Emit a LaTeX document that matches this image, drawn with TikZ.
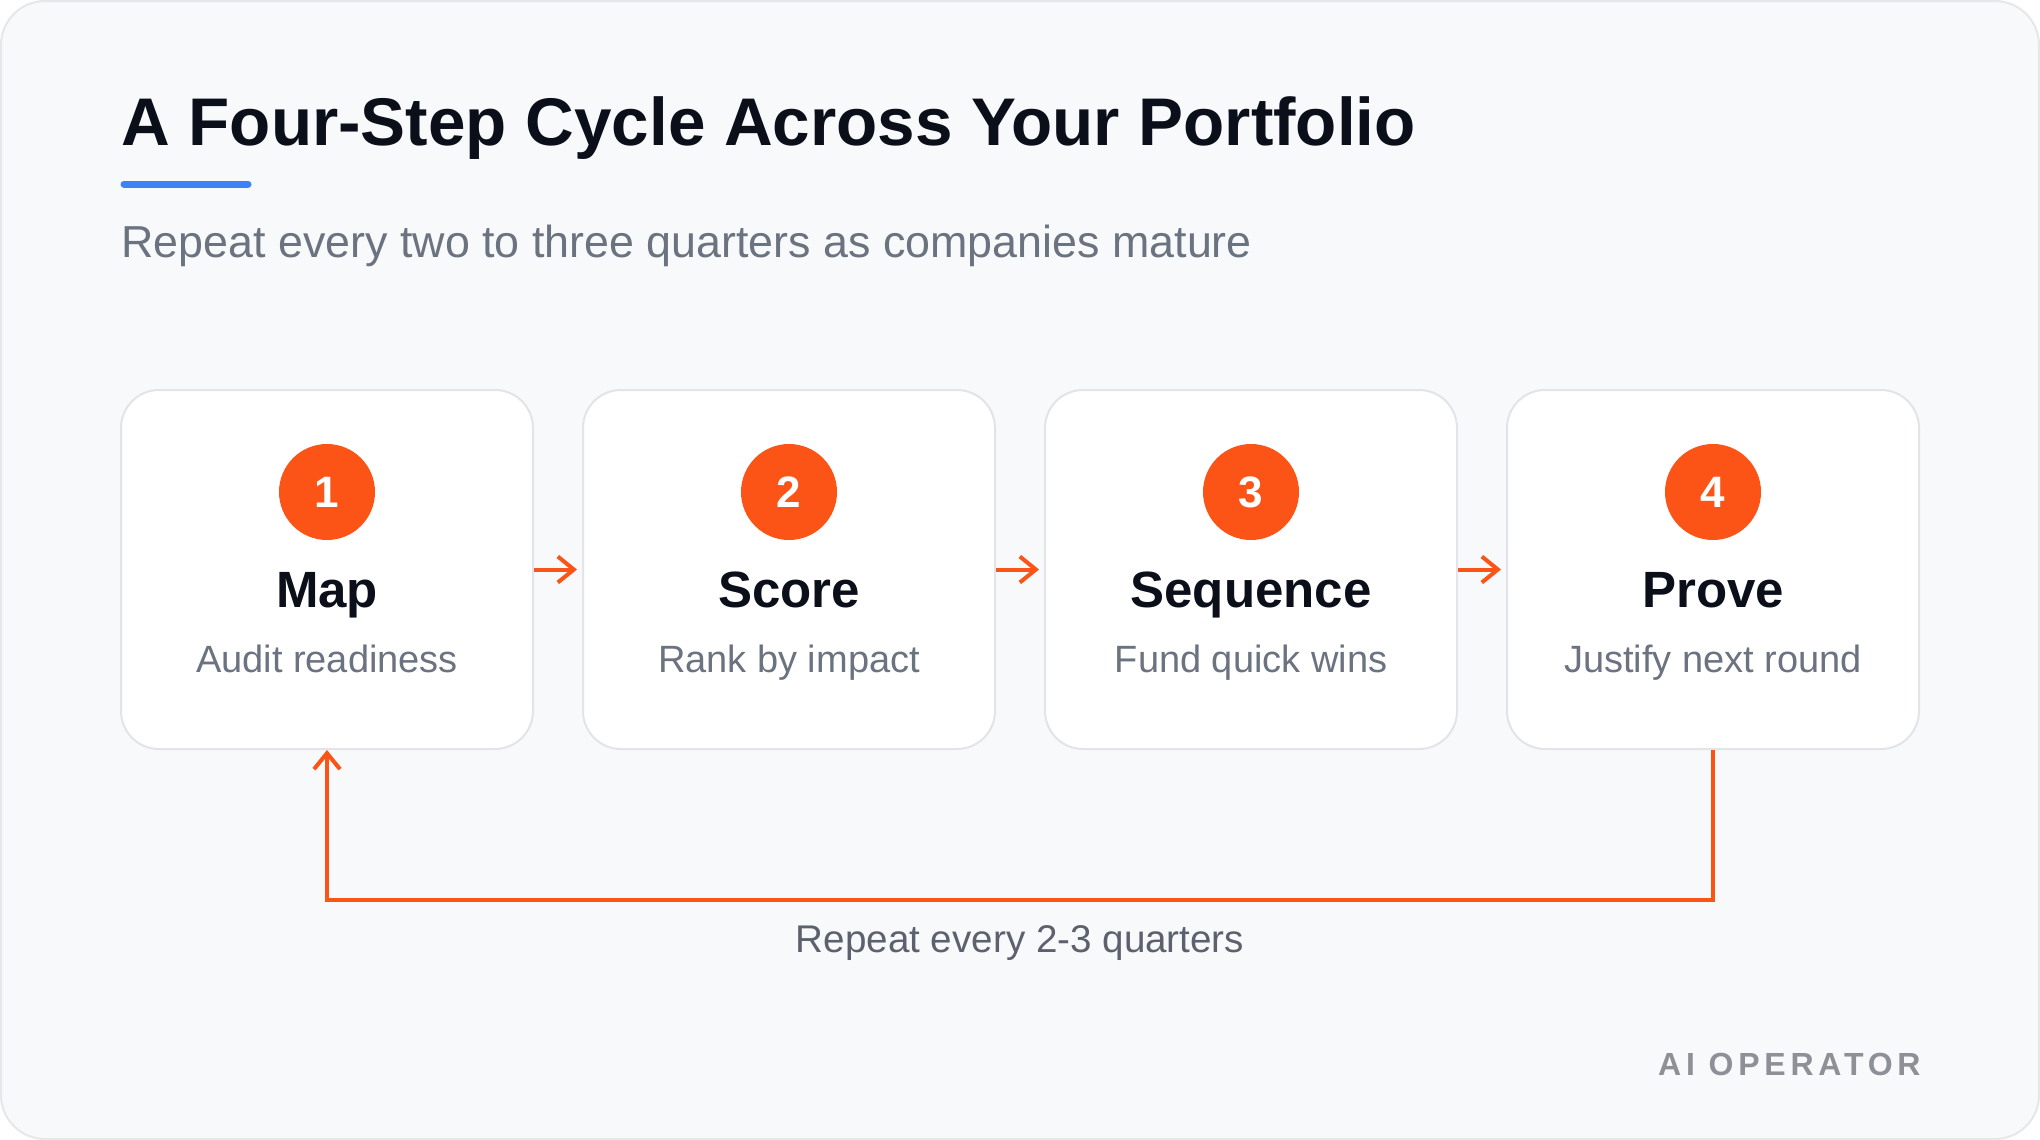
\documentclass[tikz,border=0pt]{standalone}
\usepackage{fontspec}
\setmainfont{Liberation Sans}
\usetikzlibrary{arrows.meta}
\definecolor{bgc}{HTML}{F8F9FB}
\definecolor{frame}{HTML}{E5E7EB}
\definecolor{boxline}{HTML}{E2E4E8}
\definecolor{titlec}{HTML}{0B0F1A}
\definecolor{subc}{HTML}{6B7280}
\definecolor{bluec}{HTML}{3B82F6}
\definecolor{orangec}{HTML}{FC5317}
\definecolor{brandc}{HTML}{8E9097}
\begin{document}
\begin{tikzpicture}[x=0.5pt,y=-0.5pt,
  stepbox/.style={draw=boxline, line width=1pt, fill=white, rounded corners=19pt,
    minimum width=206pt, minimum height=179.5pt, inner sep=0pt},
  numc/.style={circle, fill=orangec, minimum size=48pt, inner sep=0pt,
    text=white, font=\fontsize{22}{26}\selectfont\bfseries},
  steptitle/.style={anchor=base, text=titlec, font=\fontsize{25.5}{30}\selectfont\bfseries, inner sep=0pt},
  stepsub/.style={anchor=base, text=subc, font=\fontsize{19}{23}\selectfont, inner sep=0pt},
  flow/.style={draw=orangec, line width=2pt, -{Straight Barb[length=8pt,width=13pt]}}
]
\useasboundingbox (0,0) rectangle (2040,1140);
\path[draw=frame, fill=bgc, line width=1pt, rounded corners=22pt] (1,1) rectangle (2039,1139);

\node[anchor=base west, inner sep=0pt, text=titlec, font=\fontsize{33.7}{40}\selectfont\bfseries] (title) at (121,145) {A Four-Step Cycle Across Your Portfolio};
\draw[bluec, line width=3.5pt, line cap=round] (124,184) -- (248,184);
\node[anchor=base west, inner sep=0pt, text=subc, font=\fontsize{22.4}{27}\selectfont] (subtitle) at (121,257) {Repeat every two to three quarters as companies mature};

\node[stepbox] (b1) at (327,569.5) {};
\node[stepbox] (b2) at (789,569.5) {};
\node[stepbox] (b3) at (1251,569.5) {};
\node[stepbox] (b4) at (1713,569.5) {};

\node[numc] (n1) at (327,492) {1};
\node[numc] (n2) at (789,492) {2};
\node[numc] (n3) at (1251,492) {3};
\node[numc] (n4) at (1713,492) {4};

\node[steptitle] (t1) at (327,607) {Map};
\node[steptitle] (t2) at (789,607) {Score};
\node[steptitle] (t3) at (1251,607) {Sequence};
\node[steptitle] (t4) at (1713,607) {Prove};

\node[stepsub] (s1) at (327,672) {Audit readiness};
\node[stepsub] (s2) at (789,672) {Rank by impact};
\node[stepsub] (s3) at (1251,672) {Fund quick wins};
\node[stepsub] (s4) at (1713,672) {Justify next round};

\draw[flow, shorten >=2.5pt] (b1.east) -- (b2.west);
\draw[flow, shorten >=2.5pt] (b2.east) -- (b3.west);
\draw[flow, shorten >=2.5pt] (b3.east) -- (b4.west);

\draw[flow] (b4.south) -- ++(0,150) -| (b1.south);
\node[anchor=base, inner sep=0pt, text=subc!85!black, font=\fontsize{19.3}{23}\selectfont] (rep) at (1020,952) {Repeat every 2-3 quarters};

\node[anchor=base east, inner sep=0pt, text=brandc, font=\fontsize{16}{20}\selectfont\bfseries\addfontfeature{LetterSpace=15}] (brand) at (1921,1075) {AI OPERATOR};
\end{tikzpicture}
\end{document}
